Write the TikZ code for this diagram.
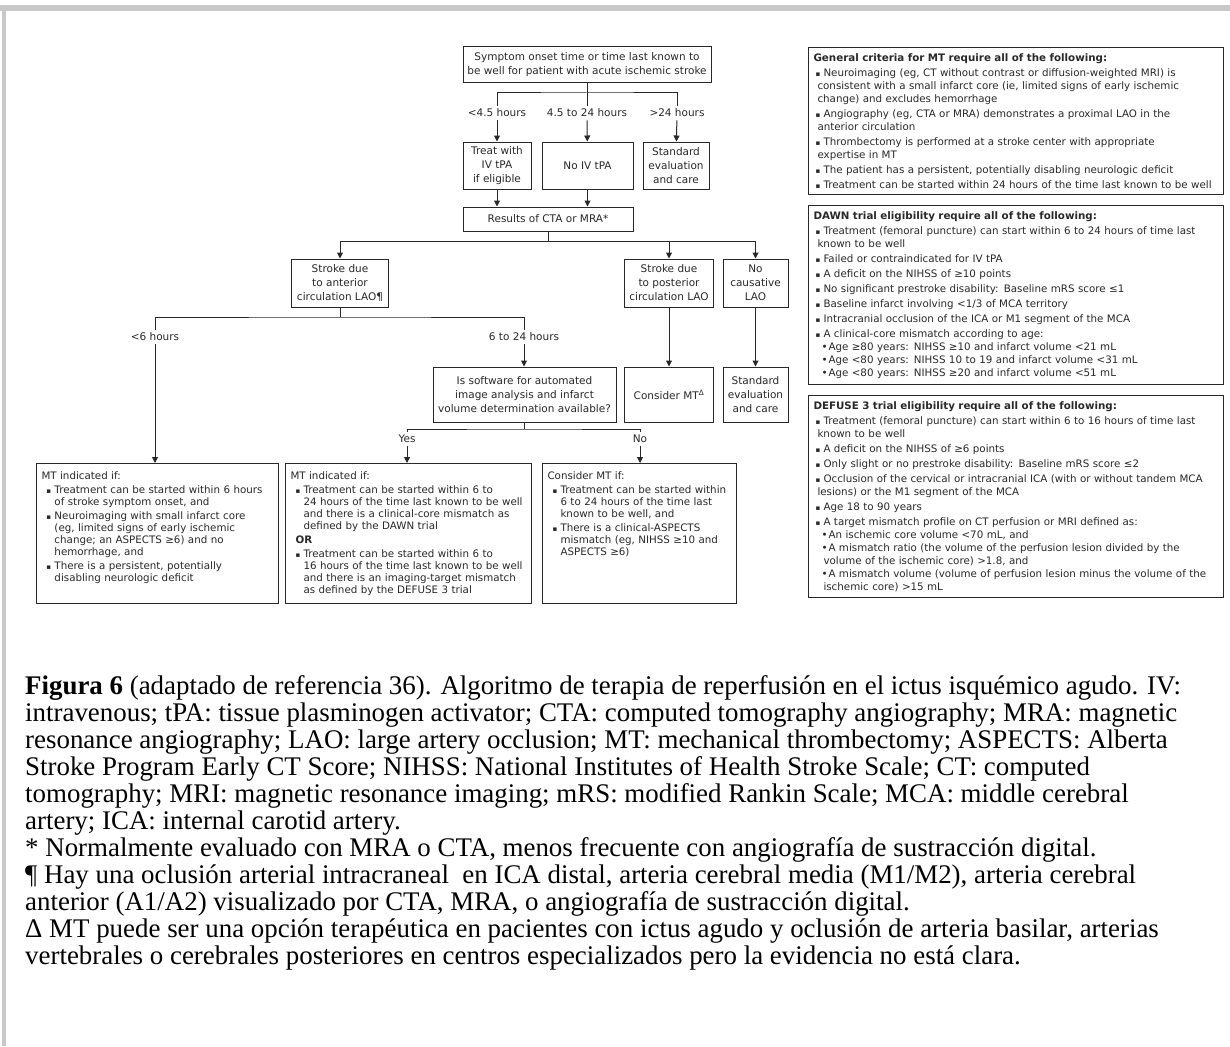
\documentclass[tikz,border=0pt]{standalone}
\usepackage{fontspec}
\setmainfont{Liberation Serif}
\newfontfamily\vfont{DejaVu Sans}
\usetikzlibrary{arrows.meta,positioning}

\definecolor{framegray}{RGB}{200,200,200}
\definecolor{inkgray}{RGB}{40,40,40}

\newcommand{\flowfont}{\vfont\fontsize{10.5}{14}\selectfont}
\newcommand{\listfont}{\vfont\fontsize{10.3}{12}\selectfont}
\newcommand{\critfont}{\vfont\fontsize{10.3}{13}\selectfont}
\newcommand{\sqbul}{{\fontsize{7}{7}\selectfont ▪}}
% bullets of the three bottom boxes
\newcommand{\bitem}[1]{\par\vspace{2pt}\hangindent=13pt\hangafter=1\noindent\makebox[13pt][l]{\hspace{5pt}\sqbul}#1\par}
% bullets of the right column
\newcommand{\ritem}[1]{\par\vspace{2pt}\hangindent=4pt\hangafter=1\noindent\makebox[10pt][l]{\hspace{2pt}\sqbul}#1\par}
\newcommand{\rsub}[1]{\par\hangindent=10pt\hangafter=1\noindent\makebox[15pt][l]{\hspace{8pt}•}#1\par}

\begin{document}
\begin{tikzpicture}[x=1pt, y=-1pt,
        box/.style={draw=inkgray, line width=1pt, align=center, inner sep=2pt, font=\flowfont, text=inkgray},
        lbl/.style={inner xsep=2pt, inner ysep=3pt, font=\flowfont, text=inkgray},
        listbox/.style={draw=inkgray, line width=1pt, anchor=north west, align=left, inner xsep=5pt, inner ysep=6pt, font=\listfont, text=inkgray},
        critbox/.style={listbox, text width=405pt, font=\critfont},
        line/.style={draw=inkgray, line width=1pt},
        arrow/.style={line, -{Triangle[length=6pt,width=6pt]}}
    ]
        \useasboundingbox (0,0) rectangle (1230,1046);

        % Page frame
        \draw[framegray, line width=6pt] (0,8) -- (1230,8);
        \draw[framegray, line width=4pt] (4,5) -- (4,1046);

        % Onset and time windows
        \node[box, minimum width=248pt, minimum height=36pt] (onset) at (587,65) {Symptom onset time or time last known to\\be well for patient with acute ischemic stroke};
        \node[lbl] (lt45) at (497,113) {<4.5 hours};
        \node[lbl] (mid) at (587,113) {4.5 to 24 hours};
        \node[lbl] (gt24) at (677,113) {>24 hours};
        \node[box, minimum width=68pt, minimum height=47pt] (treat) at (497,165.5) {Treat with\\IV tPA\\if eligible};
        \node[box, minimum width=91pt, minimum height=47pt] (notpa) at (587.5,165.5) {No IV tPA};
        \node[box, minimum width=66pt, minimum height=47pt] (stdone) at (676,165.5) {Standard\\evaluation\\and care};

        % Vessel imaging
        \node[box, minimum width=170pt, minimum height=24pt] (results) at (548,219) {Results of CTA or MRA*};
        \node[box, minimum width=97pt, minimum height=48pt] (anterior) at (340,283) {Stroke due\\to anterior\\circulation LAO¶};
        \node[box, minimum width=89pt, minimum height=48pt] (posterior) at (669,283) {Stroke due\\to posterior\\circulation LAO};
        \node[box, minimum width=65pt, minimum height=48pt] (nolao) at (755.5,283) {No\\causative\\LAO};

        % Anterior circulation branches
        \node[lbl] (lt6) at (155,337) {<6 hours};
        \node[lbl] (late) at (524,337) {6 to 24 hours};
        \node[box, minimum width=183pt, minimum height=55pt] (software) at (524.5,394.5) {Is software for automated\\image analysis and infarct\\volume determination available?};
        \node[box, minimum width=89pt, minimum height=55pt] (considermt) at (669,394.5) {Consider MT\textsuperscript{Δ}};
        \node[box, minimum width=65pt, minimum height=55pt] (stdtwo) at (755.5,394.5) {Standard\\evaluation\\and care};
        \node[lbl] (yes) at (407,439) {Yes};
        \node[lbl] (no) at (640,439) {No};

        % Bottom boxes
        \node[listbox, text width=232pt, text height=10pt, text depth=118pt] (mtearly) at (36,463) {MT indicated if:
            \bitem{Treatment can be started within 6 hours\newline of stroke symptom onset, and}
            \bitem{Neuroimaging with small infarct core\newline (eg, limited signs of early ischemic\newline change; an ASPECTS ≥6) and no\newline hemorrhage, and}
            \bitem{There is a persistent, potentially\newline disabling neurologic deficit}};
        \node[listbox, text width=236pt, text height=10pt, text depth=118pt] (mtlate) at (285,463) {MT indicated if:
            \bitem{Treatment can be started within 6 to\newline 24 hours of the time last known to be well\newline and there is a clinical-core mismatch as\newline defined by the DAWN trial}
            \vspace{2pt}\noindent\hspace{5pt}\textbf{OR}
            \bitem{Treatment can be started within 6 to\newline 16 hours of the time last known to be well\newline and there is an imaging-target mismatch\newline as defined by the DEFUSE 3 trial}};
        \node[listbox, text width=184pt, text height=10pt, text depth=118pt] (mtcons) at (542,463) {Consider MT if:
            \bitem{Treatment can be started within\newline 6 to 24 hours of the time last\newline known to be well, and}
            \bitem{There is a clinical-ASPECTS\newline mismatch (eg, NIHSS ≥10 and\newline ASPECTS ≥6)}};

        % Criteria column
        \node[critbox] (general) at (808,47) {\textbf{General criteria for MT require all of the following:}
            \ritem{Neuroimaging (eg, CT without contrast or diffusion-weighted MRI) is\newline consistent with a small infarct core (ie, limited signs of early ischemic\newline change) and excludes hemorrhage}
            \ritem{Angiography (eg, CTA or MRA) demonstrates a proximal LAO in the\newline anterior circulation}
            \ritem{Thrombectomy is performed at a stroke center with appropriate\newline expertise in MT}
            \ritem{The patient has a persistent, potentially disabling neurologic deficit}
            \ritem{Treatment can be started within 24 hours of the time last known to be well}};
        \node[critbox, below=10pt of general.south west, anchor=north west] (dawn) {\textbf{DAWN trial eligibility require all of the following:}
            \ritem{Treatment (femoral puncture) can start within 6 to 24 hours of time last\newline known to be well}
            \ritem{Failed or contraindicated for IV tPA}
            \ritem{A deficit on the NIHSS of ≥10 points}
            \ritem{No significant prestroke disability: Baseline mRS score ≤1}
            \ritem{Baseline infarct involving <1/3 of MCA territory}
            \ritem{Intracranial occlusion of the ICA or M1 segment of the MCA}
            \ritem{A clinical-core mismatch according to age:}
            \rsub{Age ≥80 years: NIHSS ≥10 and infarct volume <21 mL}
            \rsub{Age <80 years: NIHSS 10 to 19 and infarct volume <31 mL}
            \rsub{Age <80 years: NIHSS ≥20 and infarct volume <51 mL}};
        \node[critbox, below=10pt of dawn.south west, anchor=north west] (defuse) {\textbf{DEFUSE 3 trial eligibility require all of the following:}
            \ritem{Treatment (femoral puncture) can start within 6 to 16 hours of time last\newline known to be well}
            \ritem{A deficit on the NIHSS of ≥6 points}
            \ritem{Only slight or no prestroke disability: Baseline mRS score ≤2}
            \ritem{Occlusion of the cervical or intracranial ICA (with or without tandem MCA\newline lesions) or the M1 segment of the MCA}
            \ritem{Age 18 to 90 years}
            \ritem{A target mismatch profile on CT perfusion or MRI defined as:}
            \rsub{An ischemic core volume <70 mL, and}
            \rsub{A mismatch ratio (the volume of the perfusion lesion divided by the\newline volume of the ischemic core) >1.8, and}
            \rsub{A mismatch volume (volume of perfusion lesion minus the volume of the\newline ischemic core) >15 mL}};

        % Caption
        \node[anchor=north west, inner sep=0pt, align=left, font=\fontsize{26.9}{27}\selectfont] (caption) at (25,675) {\textbf{Figura 6} (adaptado de referencia 36). Algoritmo de terapia de reperfusión en el ictus isquémico agudo. IV:\\
            intravenous; tPA: tissue plasminogen activator; CTA: computed tomography angiography; MRA: magnetic\\
            resonance angiography; LAO: large artery occlusion; MT: mechanical thrombectomy; ASPECTS: Alberta\\
            Stroke Program Early CT Score; NIHSS: National Institutes of Health Stroke Scale; CT: computed\\
            tomography; MRI: magnetic resonance imaging; mRS: modified Rankin Scale; MCA: middle cerebral\\
            artery; ICA: internal carotid artery.\\
            * Normalmente evaluado con MRA o CTA, menos frecuente con angiografía de sustracción digital.\\
            ¶ Hay una oclusión arterial intracraneal\ \ en ICA distal, arteria cerebral media (M1/M2), arteria cerebral\\
            anterior (A1/A2) visualizado por CTA, MRA, o angiografía de sustracción digital.\\
            Δ MT puede ser una opción terapéutica en pacientes con ictus agudo y oclusión de arteria basilar, arterias\\
            vertebrales o cerebrales posteriores en centros especializados pero la evidencia no está clara.};

        % Arrows
        \coordinate (forkA) at (587,93);
        \draw[line] (onset) -- (mid);
        \draw[line] (lt45.north) |- (forkA) -| (gt24.north);
        \draw[arrow] (lt45) -- (treat);
        \draw[arrow] (mid) -- (notpa);
        \draw[arrow] (gt24) -- (stdone);
        \draw[arrow] (treat) -- (treat |- results.north);
        \draw[arrow] (notpa) -- (notpa |- results.north);
        \coordinate (forkB) at (548,241);
        \draw[line] (results) -- (forkB);
        \draw[arrow] (forkB) -| (anterior);
        \draw[arrow] (forkB) -| (posterior);
        \draw[arrow] (forkB) -| (nolao);
        \coordinate (forkC) at (340,317);
        \draw[line] (anterior) -- (forkC);
        \draw[line] (lt6.north) |- (forkC) -| (late.north);
        \draw[arrow] (lt6) -- (lt6 |- mtearly.north);
        \draw[arrow] (late) -- (late |- software.north);
        \draw[arrow] (posterior) -- (considermt);
        \draw[arrow] (nolao) -- (stdtwo);
        \coordinate (forkD) at (524.5,429);
        \draw[line] (software) -- (forkD);
        \draw[line] (yes.north) |- (forkD) -| (no.north);
        \draw[arrow] (yes) -- (yes |- mtlate.north);
        \draw[arrow] (no) -- (no |- mtcons.north);
    \end{tikzpicture}
\end{document}
